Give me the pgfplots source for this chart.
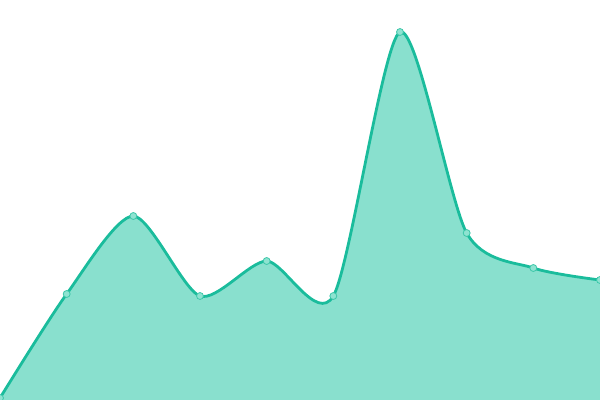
\documentclass[border=0pt]{standalone}
\usepackage{pgfplots}
\pgfplotsset{compat=1.18}
\definecolor{linegreen}{HTML}{1ABC9C}
\definecolor{areagreen}{HTML}{89E0CE}
\definecolor{markfill}{HTML}{8EE3D1}
\definecolor{markline}{HTML}{3CC7A9}
\begin{document}
\begin{tikzpicture}
\useasboundingbox (0,0) rectangle (450pt,300pt);
\clip (0,0) rectangle (450pt,300pt);
\begin{axis}[
    at={(0,0)}, anchor=south west,
    scale only axis,
    width=450pt, height=300pt,
    xmin=0, xmax=9,
    ymin=0, ymax=400,
    hide axis,
    clip=false
]
% area under the curve
\addplot[smooth, tension=0.45, draw=none, fill=areagreen] coordinates {
(0,2) (1,106) (2,184) (3,104) (4,139) (5,104) (6,368) (7,167) (8,132) (9,120)
} \closedcycle;
% the line with its points
\addplot[smooth, tension=0.45, color=linegreen, line width=2.1pt,
    mark=*, mark size=2.6pt,
    mark options={fill=markfill, draw=markline, line width=0.6pt}] coordinates {
(0,2) (1,106) (2,184) (3,104) (4,139) (5,104) (6,368) (7,167) (8,132) (9,120)
};
\end{axis}
\end{tikzpicture}
\end{document}
